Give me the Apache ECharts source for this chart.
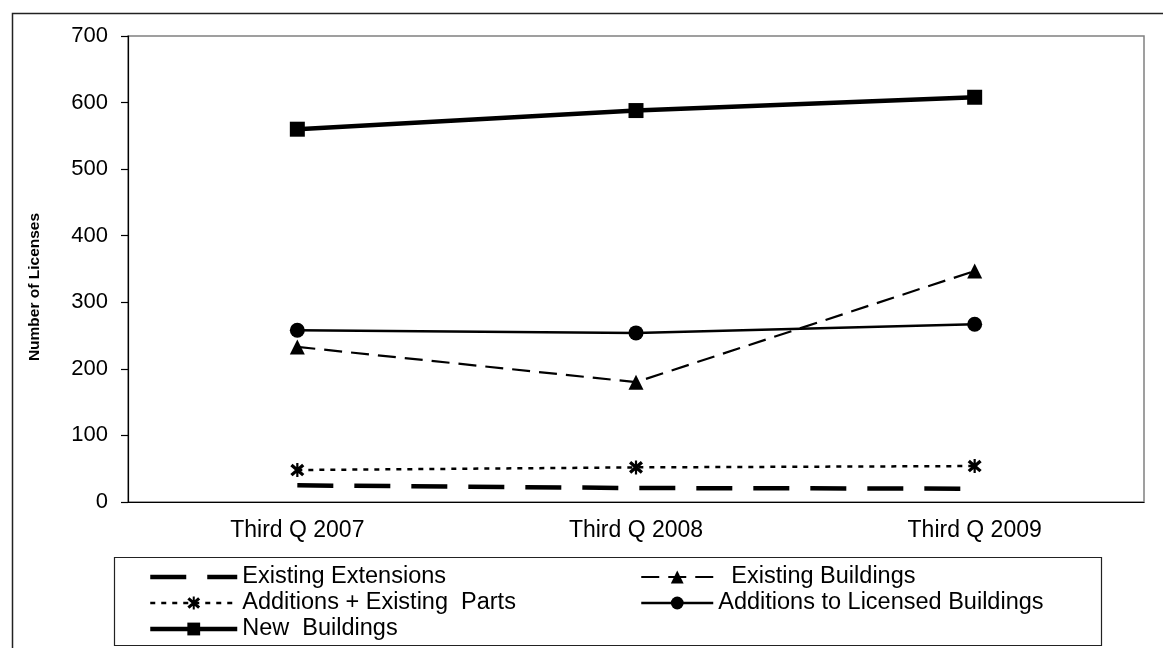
<!DOCTYPE html>
<html>
<head>
<meta charset="utf-8">
<script src="https://cdn.jsdelivr.net/npm/echarts@6/dist/echarts.min.js"></script>
<style>
html, body { margin: 0; padding: 0; background: #fff; }
#chart { width: 1163px; height: 648px; }
</style>
</head>
<body>
<div id="chart"></div>
<script>
// data
var quarters = ['Third Q 2007', 'Third Q 2008', 'Third Q 2009'];
var existingExtensions = [25, 21, 20];
var existingBuildings = [233, 180, 347];
var additionsExistingParts = [48, 52, 54];
var additionsLicensed = [258, 254, 267];
var newBuildings = [560, 588, 608];

// asterisk marker (X with vertical bar)
var starPath = 'path://M8.5,0 L11.5,0 L11.5,20 L8.5,20 Z M3.5,1 L19.5,15.5 L16.5,19 L0.5,4.5 Z M16.5,1 L19.5,4.5 L3.5,19 L0.5,15.5 Z';

var font = 'Liberation Sans, Arial, sans-serif';
var myChart = echarts.init(document.getElementById('chart'));

var legendText = { color: '#000', fontSize: 23.5, fontFamily: font };

var option = {
    animation: false,
    backgroundColor: '#fff',
    grid: {
        left: 128,
        right: 19,
        top: 36,
        bottom: 146,
        show: true,
        borderColor: '#808080',
        borderWidth: 1.5
    },
    xAxis: {
        type: 'category',
        data: quarters,
        boundaryGap: true,
        axisLine: { lineStyle: { color: '#000', width: 1.2 } },
        axisTick: { show: false },
        axisLabel: { color: '#000', fontSize: 23, fontFamily: font, margin: 17 },
        splitLine: { show: false }
    },
    yAxis: {
        type: 'value',
        min: 0,
        max: 700,
        interval: 100,
        name: 'Number of Licenses',
        nameLocation: 'middle',
        nameGap: 85,
        nameTextStyle: {
            color: '#000', fontSize: 15.5, fontWeight: 'bold', fontFamily: font,
            padding: [0, 36, 0, 0]
        },
        axisLine: { show: true, lineStyle: { color: '#000', width: 1.2 } },
        axisTick: { show: true, inside: false, length: 7, lineStyle: { color: '#000', width: 1.2 } },
        axisLabel: { color: '#000', fontSize: 22, fontFamily: font, margin: 20 },
        splitLine: { show: false }
    },
    legend: [
        {
            orient: 'vertical',
            left: 148,
            top: 565,
            height: 120,
            padding: 0,
            itemWidth: 87,
            itemHeight: 16,
            itemGap: 2,
            selectedMode: false,
            textStyle: legendText,
            data: [
                { name: 'Existing Extensions', itemStyle: { opacity: 0 }, lineStyle: { width: 4.5 } },
                { name: 'Additions + Existing  Parts', lineStyle: { width: 2.5 } },
                { name: 'New  Buildings', lineStyle: { width: 4.5 } }
            ]
        },
        {
            orient: 'vertical',
            left: 640,
            top: 565,
            height: 120,
            padding: 0,
            itemWidth: 72,
            itemHeight: 16,
            itemGap: 2,
            selectedMode: false,
            textStyle: legendText,
            formatter: function (name) {
                return name === 'Existing Buildings' ? '  ' + name : name;
            },
            data: [
                { name: 'Existing Buildings', lineStyle: { width: 2.2 } },
                { name: 'Additions to Licensed Buildings', lineStyle: { width: 2.5 } }
            ]
        }
    ],
    graphic: [
        {
            type: 'rect',
            silent: true,
            z: -1,
            shape: { x: 12.5, y: 13.5, width: 1170, height: 650 },
            style: { fill: null, stroke: '#222', lineWidth: 1.5 }
        },
        {
            type: 'rect',
            silent: true,
            shape: { x: 114.5, y: 557.5, width: 987, height: 88 },
            style: { fill: null, stroke: '#222', lineWidth: 1.2 }
        }
    ],
    series: [
        {
            name: 'Existing Extensions',
            type: 'line',
            data: existingExtensions,
            symbol: 'none',
            lineStyle: { color: '#000', width: 4.5, type: [36, 21] },
            itemStyle: { color: '#000' }
        },
        {
            name: 'Existing Buildings',
            type: 'line',
            data: existingBuildings,
            symbol: 'triangle',
            symbolSize: 15,
            lineStyle: { color: '#000', width: 2.2, type: [18, 9] },
            itemStyle: { color: '#000' }
        },
        {
            name: 'Additions + Existing  Parts',
            type: 'line',
            data: additionsExistingParts,
            symbol: starPath,
            symbolSize: 14,
            lineStyle: { color: '#000', width: 2.5, type: [5, 6] },
            itemStyle: { color: '#000' }
        },
        {
            name: 'Additions to Licensed Buildings',
            type: 'line',
            data: additionsLicensed,
            symbol: 'circle',
            symbolSize: 15,
            lineStyle: { color: '#000', width: 2.5 },
            itemStyle: { color: '#000' }
        },
        {
            name: 'New  Buildings',
            type: 'line',
            data: newBuildings,
            symbol: 'rect',
            symbolSize: 15,
            lineStyle: { color: '#000', width: 4.5 },
            itemStyle: { color: '#000' }
        }
    ]
};

myChart.setOption(option);
</script>
</body>
</html>
